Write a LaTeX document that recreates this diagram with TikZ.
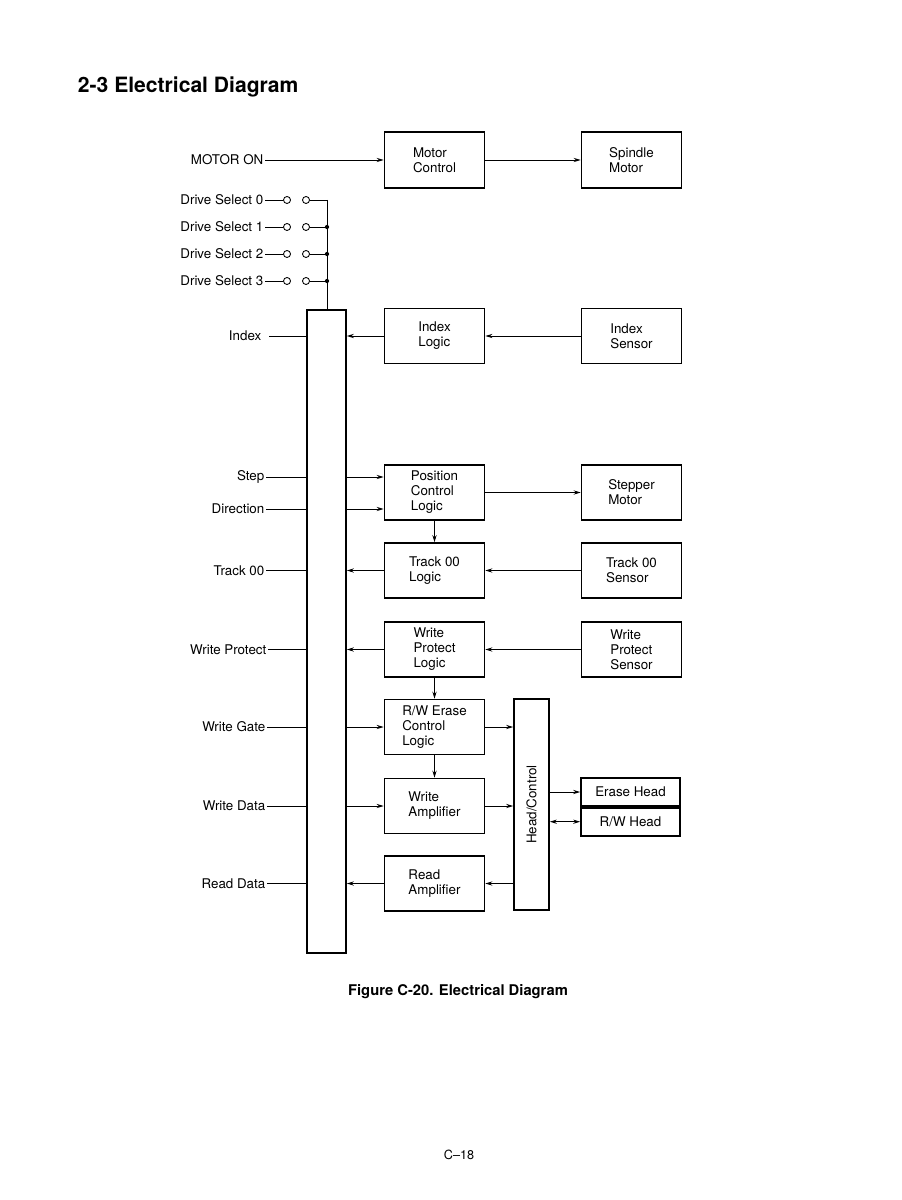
\documentclass[tikz,border=0pt]{standalone}
\usepackage{fontspec}
\setmainfont{TeX Gyre Heros}
\usetikzlibrary{arrows.meta}
\begin{document}
\begin{tikzpicture}[x=0.025cm, y=-0.025cm, >={Stealth[length=5pt,width=3pt]},
    blk/.style={draw, line width=1.2pt, minimum width=2.5cm, minimum height=1.375cm, align=left, font=\fontsize{9.5}{10.7}\selectfont},
    lbl/.style={anchor=east, inner sep=1pt, font=\fontsize{9.5}{10.7}\selectfont},
    wire/.style={line width=0.6pt},
    sig/.style={wire, ->},
    pin/.style={circle, draw, line width=0.6pt, inner sep=0pt, minimum size=5pt}]
    \useasboundingbox (0,0) rectangle (901,1200);
    \node[anchor=west, font=\bfseries\fontsize{15}{18}\selectfont] (title) at (73,87) {2-3 Electrical Diagram};

    % interface bar
    \node[draw, line width=1.2pt, minimum width=0.975cm, minimum height=16.075cm] (iface) at (326.5,631.5) {};

    % motor
    \node[blk, minimum height=1.4cm] (motorctl) at (434.5,160) {Motor\\Control};
    \node[blk, minimum height=1.4cm] (spindle) at (631.5,160) {Spindle\\Motor};
    \node[lbl] (motoron) at (265,160) {MOTOR ON};
    \draw[sig] (motoron.east) -- (motorctl.west);
    \draw[sig] (motorctl.east) -- (spindle.west);

    % drive select
    \coordinate (bus) at (327,200);
    \foreach \i/\y in {0/200,1/227,2/254,3/281} {
        \node[lbl] (ds\i) at (265,\y) {Drive Select \i};
        \node[pin] (dsa\i) at (287,\y) {};
        \node[pin] (dsb\i) at (306,\y) {};
        \draw[wire] (ds\i.east) -- (dsa\i.west);
        \draw[wire] (dsb\i.east) -- (bus |- dsb\i.east);
    }
    \draw[wire] (bus) -- (bus |- iface.north);
    \foreach \i in {1,2,3}
        \fill (bus |- dsb\i.east) circle (1.5pt);

    % index
    \node[blk] (idxlogic) at (434.5,336) {Index\\Logic};
    \node[blk] (idxsensor) at (631.5,336) {Index\\Sensor};
    \node[lbl] (index) at (263,336) {Index};
    \draw[wire] (index.east) ++(6,0) -- (index.east -| iface.west);
    \draw[sig] (idxlogic.west) -- (idxlogic.west -| iface.east);
    \draw[sig] (idxsensor.west) -- (idxlogic.east);

    % position control
    \node[blk] (poslogic) at (434.5,492.5) {Position\\Control\\Logic};
    \node[blk] (stepper) at (631.5,492.5) {Stepper\\Motor};
    \node[lbl] (step) at (266,477) {Step};
    \node[lbl] (direction) at (266,509) {Direction};
    \foreach \s in {step,direction} {
        \draw[wire] (\s.east) -- (\s.east -| iface.west);
        \draw[sig] (\s.east -| iface.east) -- (\s.east -| poslogic.west);
    }
    \draw[sig] (poslogic.east) -- (stepper.west);

    % track 00
    \node[blk] (t00logic) at (434.5,570.5) {Track 00\\Logic};
    \node[blk] (t00sensor) at (631.5,570.5) {Track 00\\Sensor};
    \node[lbl] (track) at (266,570.5) {Track 00};
    \draw[sig] (poslogic.south) -- (t00logic.north);
    \draw[wire] (track.east) -- (track.east -| iface.west);
    \draw[sig] (t00logic.west) -- (t00logic.west -| iface.east);
    \draw[sig] (t00sensor.west) -- (t00logic.east);

    % write protect
    \node[blk] (wplogic) at (434.5,649.5) {Write\\Protect\\Logic};
    \node[blk] (wpsensor) at (631.5,649.5) {Write\\Protect\\Sensor};
    \node[lbl] (wprotect) at (268,649.5) {Write Protect};
    \draw[wire] (wprotect.east) -- (wprotect.east -| iface.west);
    \draw[sig] (wplogic.west) -- (wplogic.west -| iface.east);
    \draw[sig] (wpsensor.west) -- (wplogic.east);

    % read / write
    \node[blk] (rwlogic) at (434.5,727) {R/W Erase\\Control\\Logic};
    \node[blk] (writeamp) at (434.5,806) {Write\\Amplifier};
    \node[blk] (readamp) at (434.5,883.5) {Read\\Amplifier};
    \draw[sig] (wplogic.south) -- (rwlogic.north);
    \draw[sig] (rwlogic.south) -- (writeamp.north);
    \node[lbl] (wgate) at (267,727) {Write Gate};
    \node[lbl] (wdata) at (267,806) {Write Data};
    \node[lbl] (rdata) at (267,883.5) {Read Data};
    \foreach \s in {wgate,wdata,rdata}
        \draw[wire] (\s.east) -- (\s.east -| iface.west);
    \draw[sig] (wgate.east -| iface.east) -- (rwlogic.west);
    \draw[sig] (wdata.east -| iface.east) -- (writeamp.west);
    \draw[sig] (readamp.west) -- (readamp.west -| iface.east);

    % head control
    \node[draw, line width=1.2pt, minimum width=0.875cm, minimum height=5.275cm] (headctl) at (531.5,804.5) {};
    \node[rotate=90, font=\fontsize{9.5}{10.7}\selectfont] (headtxt) at (headctl) {Head/Control};
    \draw[sig] (rwlogic.east) -- (rwlogic.east -| headctl.west);
    \draw[sig] (writeamp.east) -- (writeamp.east -| headctl.west);
    \draw[sig] (readamp.east -| headctl.west) -- (readamp.east);
    \node[blk, minimum width=2.475cm, minimum height=0.7cm] (erasehead) at (630.5,792) {Erase Head};
    \node[blk, minimum width=2.475cm, minimum height=0.7cm, anchor=north] (rwhead) at (erasehead.south) {R/W Head};
    \draw[sig] (erasehead.west -| headctl.east) -- (erasehead.west);
    \draw[wire, <->] (rwhead.west -| headctl.east) -- (rwhead.west);

    \node[font=\bfseries\fontsize{10.5}{12}\selectfont] (caption) at (458,992) {Figure C-20. Electrical Diagram};
    \node[font=\fontsize{9}{10}\selectfont] (pageno) at (459,1155) {C--18};
\end{tikzpicture}
\end{document}
